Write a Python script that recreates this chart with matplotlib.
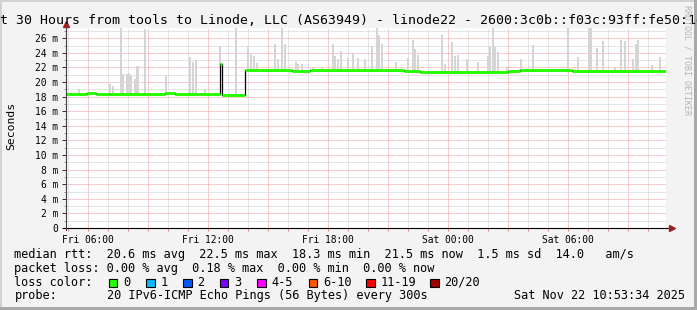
import matplotlib
matplotlib.use('Agg')
import matplotlib.pyplot as plt
from matplotlib.patches import Rectangle
from matplotlib.ticker import MultipleLocator, FixedLocator, FuncFormatter
import numpy as np

# canvas size in pixels
W, H = 697, 310

# time axis in hours since Fri 00:00 (last 30 hours up to Sat 10:53:34)
t_start = 4.893
t_end = 34.893
x_tick_hours = [6, 12, 18, 24, 30]
x_tick_labels = ['Fri 06:00', 'Fri 12:00', 'Fri 18:00', 'Sat 00:00', 'Sat 06:00']

# median rtt (ms) as steps: segment start times (last entry = end) and values
median_t = [4.89, 5.95, 6.40, 7.10, 9.10, 9.85, 10.35, 11.60, 12.57, 12.67, 13.84,
            16.20, 17.10, 21.80, 22.60, 27.00, 27.60, 30.20, 34.87]
median_v = [18.3, 18.5, 18.3, 18.4, 18.3, 18.5, 18.4, 18.3, 22.5, 18.2, 21.6,
            21.5, 21.6, 21.5, 21.4, 21.5, 21.6, 21.5]

# smoke: highest ping per sample where it stands out (ms), 27.4 = off the top
smoke_t = [5.54, 7.09, 7.24, 7.64, 7.74, 7.94, 8.04, 8.14, 8.34, 8.44, 8.49, 8.84,
           9.89, 11.09, 11.24, 11.39, 11.84, 12.59, 13.39, 13.99, 14.14, 14.29, 14.44,
           15.34, 15.49, 15.69, 15.84, 16.39, 16.49, 16.69, 17.24, 17.69, 18.24, 18.34,
           18.49, 18.64, 18.99, 19.24, 19.49, 19.84, 20.19, 20.44, 20.54, 20.69, 21.39,
           21.99, 22.24, 22.34, 22.49, 23.69, 23.84, 24.19, 24.34, 24.49, 24.94, 25.49,
           25.99, 26.09, 26.24, 26.34, 26.49, 26.94, 27.64, 28.24, 29.99, 30.49, 31.04,
           31.14, 31.44, 31.74, 32.34, 32.64, 32.84, 33.24, 33.39, 33.49, 34.19, 34.59]
smoke_max = [19.1, 19.7, 19.5, 27.4, 21.1, 21.1, 21.3, 20.9, 20.4, 22.2, 22.2, 27.2,
             21.0, 23.4, 22.8, 23.0, 19.0, 24.9, 27.4, 24.9, 23.8, 23.6, 22.6,
             25.2, 23.2, 27.4, 25.2, 22.8, 22.5, 22.4, 22.1, 21.9, 25.2, 23.5,
             23.1, 24.2, 23.3, 24.0, 23.3, 23.1, 24.9, 27.4, 26.5, 25.2, 22.8,
             23.3, 25.8, 24.5, 23.7, 26.5, 22.5, 25.5, 23.5, 23.7, 23.2, 22.8,
             23.6, 25.0, 27.4, 24.8, 24.1, 22.1, 23.1, 25.1, 27.4, 23.4, 27.4,
             27.4, 24.6, 25.6, 22.1, 25.8, 25.6, 23.2, 25.2, 25.8, 22.3, 23.4]

# legend statistics
rtt_stats = [20.6, 22.5, 18.3, 21.5, 1.5]
rtt_am_s = 14.0
loss_stats = [0.00, 0.18, 0.00, 0.00]
loss_labels = ['0', '1', '2', '3', '4-5', '6-10', '11-19', '20/20']
loss_colors = ['#26ff00', '#00b8ff', '#0059ff', '#7e00ff', '#ff00ff', '#ff5500', '#ff0000', '#a10000']

title = 'Last 30 Hours from tools to Linode, LLC (AS63949) - linode22 - 2600:3c0b::f03c:93ff:fe50:1e9d'
probe_text = '20 IPv6-ICMP Echo Pings (56 Bytes) every 300s'
stamp = 'Sat Nov 22 10:53:34 2025'

MONO = 'DejaVu Sans Mono'


def fx(x):
    return x / W


def fy(y):
    return 1 - y / H


def main():
    fig = plt.figure(figsize=(W / 100, H / 100), dpi=100, facecolor='#f3f3f3')

    # 3d-ish frame round the canvas
    for (x, y, w, h, c) in [(0, 0, 2, H, '#d2d2d2'), (0, 0, W, 2, '#d2d2d2'),
                            (W - 3, 0, 3, H, '#a8a8a8'), (0, H - 3, W, 3, '#a8a8a8')]:
        fig.patches.append(Rectangle((fx(x), fy(y + h)), w / W, h / H,
                                     transform=fig.transFigure, facecolor=c,
                                     edgecolor='none', zorder=0))

    ax = fig.add_axes([fx(66), fy(228), 600 / W, 200 / H])
    ax.set_facecolor('white')
    ax.set_xlim(t_start, t_end)
    ax.set_ylim(0, 27.4)

    # smoke
    mt = np.array(median_t)
    idx = np.clip(np.searchsorted(mt, smoke_t, side='right') - 1, 0, len(median_v) - 1)
    bottoms = np.array(median_v)[idx] - 0.15
    ax.bar(smoke_t, np.array(smoke_max) - bottoms, bottom=bottoms, width=0.1,
           color='#d5d5d5', linewidth=0, zorder=2)

    # median: black step line, green per-sample pieces on top
    ax.step(median_t, median_v + [median_v[-1]], where='post', color='black',
            linewidth=0.9, zorder=3)
    ax.hlines(median_v, median_t[:-1], median_t[1:], color=loss_colors[0],
              linewidth=2.1, zorder=4)

    # grid
    ax.xaxis.set_major_locator(FixedLocator(np.arange(6, 35, 3)))
    ax.xaxis.set_minor_locator(MultipleLocator(1))
    ax.yaxis.set_major_locator(MultipleLocator(2))
    ax.yaxis.set_minor_locator(MultipleLocator(1))
    ax.grid(True, which='major', color='#f29a9a', linestyle=(0, (1, 1)), linewidth=0.72)
    ax.grid(True, which='minor', color='#cdcdcd', linestyle=(0, (1, 1)), linewidth=0.72)
    ax.set_axisbelow(True)

    labels = dict(zip(x_tick_hours, x_tick_labels))
    ax.xaxis.set_major_formatter(FuncFormatter(lambda v, p: labels.get(int(round(v)), '')))
    ax.yaxis.set_major_formatter(FuncFormatter(lambda v, p: '0' if v == 0 else '%d m' % v))
    ax.tick_params(axis='x', which='both', direction='out', length=2.2, width=0.72,
                   color='#e08a8a', pad=3, labelsize=6.9)
    ax.tick_params(axis='y', which='major', direction='out', length=3, width=0.72,
                   color='#333333', pad=2.5, labelsize=6.9)
    ax.tick_params(axis='y', which='minor', direction='out', length=1.5, width=0.72,
                   color='#999999')
    for lab in ax.get_xticklabels() + ax.get_yticklabels():
        lab.set_family(MONO)

    for s in ax.spines.values():
        s.set_visible(False)
    ax.plot([-0.005, 1.01], [0, 0], transform=ax.transAxes, color='black',
            linewidth=0.8, clip_on=False, zorder=5)
    ax.plot([0, 0], [-0.01, 1.015], transform=ax.transAxes, color='#404040',
            linewidth=0.8, clip_on=False, zorder=5)
    ax.plot([0], [1.022], marker='^', markersize=4.5, color='#9b2222',
            transform=ax.transAxes, clip_on=False, zorder=6)
    ax.plot([1.01], [0], marker='>', markersize=4.5, color='#9b2222',
            transform=ax.transAxes, clip_on=False, zorder=6)

    # texts
    fig.text(fx(W / 2), fy(24), title, ha='center', va='baseline',
             family=MONO, fontsize=9.5)
    fig.text(fx(11), fy(126), 'Seconds', rotation=90, ha='center', va='center',
             family=MONO, fontsize=8.2)
    fig.text(fx(686.5), fy(60), 'RRDTOOL / TOBI OETIKER', rotation=270,
             ha='center', va='center', family=MONO, fontsize=6, color='#b4b4b4')

    line1 = ('median rtt:  %.1f ms avg  %.1f ms max  %.1f ms min  %.1f ms now  '
             '%.1f ms sd  %.1f   am/s' % (*rtt_stats, rtt_am_s))
    line2 = 'packet loss: %.2f %% avg  %.2f %% max  %.2f %% min  %.2f %% now' % tuple(loss_stats)
    rows = [258.0, 271.8, 285.6, 299.4]
    fs = 8.55
    fig.text(fx(14.5), fy(rows[0]), line1, family=MONO, fontsize=fs, va='baseline')
    fig.text(fx(14.5), fy(rows[1]), line2, family=MONO, fontsize=fs, va='baseline')
    fig.text(fx(14.5), fy(rows[2]), 'loss color:', family=MONO, fontsize=fs, va='baseline')
    fig.text(fx(14.5), fy(rows[3]), 'probe:', family=MONO, fontsize=fs, va='baseline')
    fig.text(fx(107.3), fy(rows[3]), probe_text, family=MONO, fontsize=fs, va='baseline')
    fig.text(fx(684.5), fy(rows[3]), stamp, family=MONO, fontsize=fs, va='baseline', ha='right')

    box_x = [108.5, 146, 183, 219.5, 257, 308.5, 366, 430]
    for bx, col, lab in zip(box_x, loss_colors, loss_labels):
        fig.patches.append(Rectangle((fx(bx), fy(287)), 8.5 / W, 8.5 / H,
                                     transform=fig.transFigure, facecolor=col,
                                     edgecolor='black', linewidth=0.8, zorder=3))
        fig.text(fx(bx + 14.5), fy(rows[2]), lab, family=MONO, fontsize=fs, va='baseline')

    fig.savefig('out.png', dpi=100, facecolor=fig.get_facecolor())


if __name__ == '__main__':
    main()
